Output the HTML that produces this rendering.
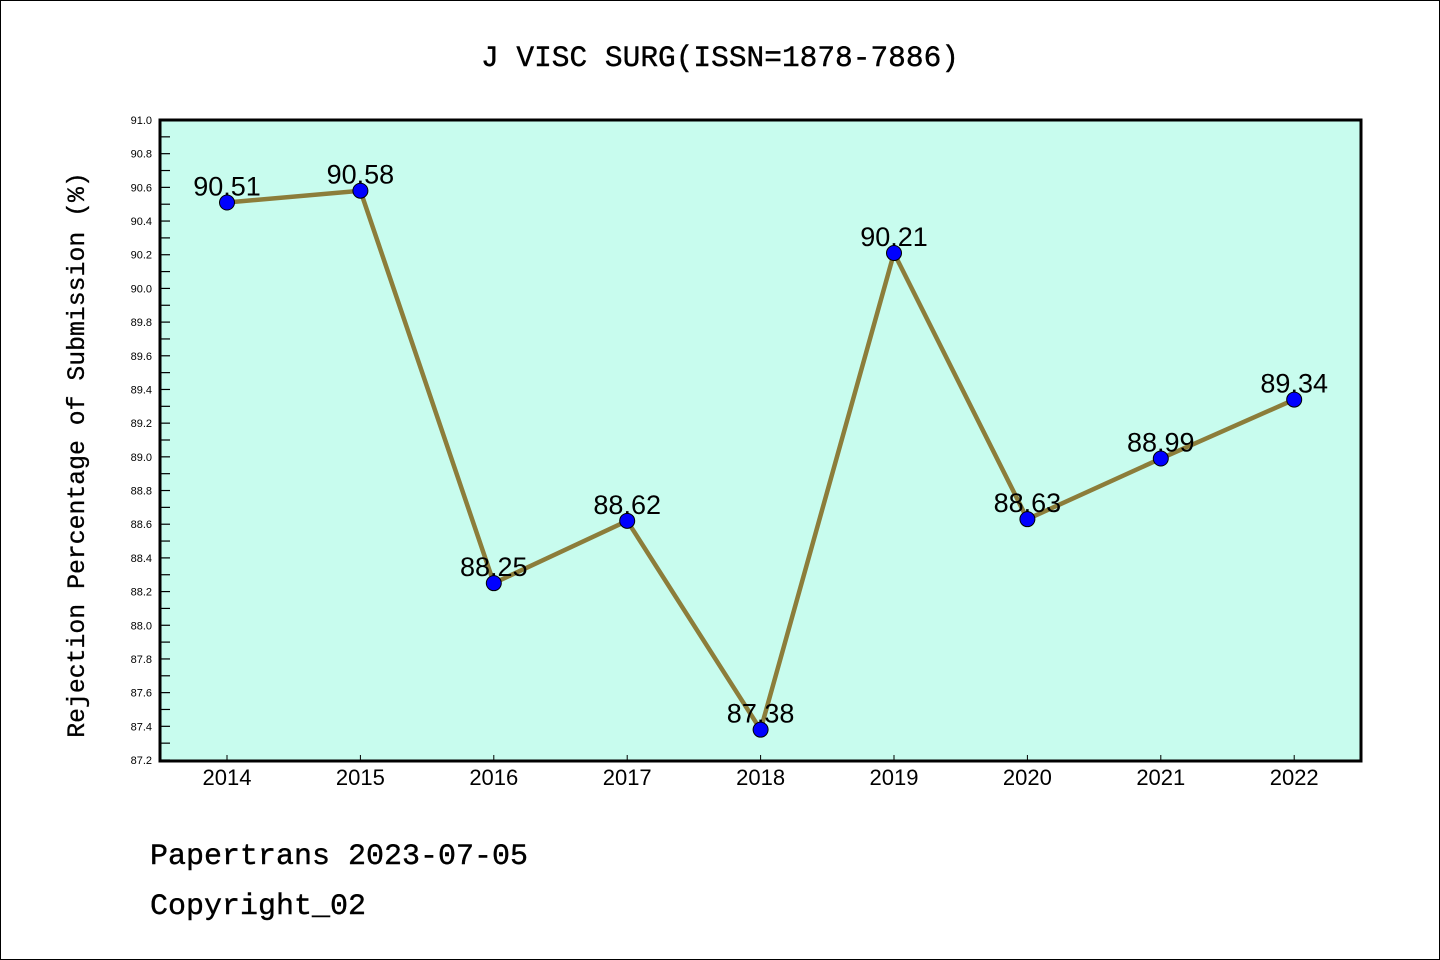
<!DOCTYPE html>
<html><head><meta charset="utf-8"><style>
html,body{margin:0;padding:0;background:#fff}
svg{display:block}
</style></head><body>
<svg width="1440" height="960" xmlns="http://www.w3.org/2000/svg">
<rect x="0.5" y="0.5" width="1439" height="959" fill="#fff" stroke="#000" stroke-width="1"/>
<text x="720" y="66" text-anchor="middle" font-family="Liberation Mono, monospace" font-size="29.5" stroke="#000" stroke-width="0.4">J VISC SURG(ISSN=1878-7886)</text>
<rect x="160" y="120" width="1201" height="641" fill="#c8fcee"/>
<g id="ticks"></g>
<g id="series"></g>
<rect x="160" y="120" width="1201" height="641" fill="none" stroke="#000" stroke-width="3"/>
<text transform="translate(84,455) rotate(-90)" text-anchor="middle" font-family="Liberation Mono, monospace" font-size="24.8" stroke="#000" stroke-width="0.3">Rejection Percentage of Submission (%)</text>
<text x="150" y="864" font-family="Liberation Mono, monospace" font-size="30" stroke="#000" stroke-width="0.4">Papertrans 2023-07-05</text>
<text x="150" y="914" font-family="Liberation Mono, monospace" font-size="30" stroke="#000" stroke-width="0.4">Copyright_02</text>
</svg>
<script>
const years = ['2014','2015','2016','2017','2018','2019','2020','2021','2022'];
const values = [90.51,90.58,88.25,88.62,87.38,90.21,88.63,88.99,89.34];
const yTicks = ['87.2','87.4','87.6','87.8','88.0','88.2','88.4','88.6','88.8','89.0','89.2','89.4','89.6','89.8','90.0','90.2','90.4','90.6','90.8','91.0'];
const NS='http://www.w3.org/2000/svg';
const yMin=87.2,yMax=91.0,yTop=120,yBot=760;
function yScale(v){return yBot-(v-yMin)/(yMax-yMin)*(yBot-yTop);}
function xScale(i){return 227+i*133.4;}
function mk(t,a,p){const e=document.createElementNS(NS,t);for(const k in a)e.setAttribute(k,a[k]);p.appendChild(e);return e;}
const tg=document.getElementById('ticks'), sg=document.getElementById('series');
yTicks.forEach((t,i)=>{
  const v=parseFloat(t), yy=yScale(v);
  const l=mk('line',{x1:160,x2:170,y1:yy,y2:yy,stroke:'#000','stroke-width':1.2},tg);
  
  
  const tx=mk('text',{x:152,y:yy+4,'text-anchor':'end','font-family':'Liberation Sans, sans-serif','font-size':11},tg);
  tx.textContent=t;
  
  
  if(i<yTicks.length-1){
    const ym=yScale(v+0.1);
    const m=mk('line',{x1:160,x2:170,y1:ym,y2:ym,stroke:'#000','stroke-width':1.2},tg);
    
    
  }
});
years.forEach((yr,i)=>{
  const l=mk('line',{x1:xScale(i),x2:xScale(i),y1:755,y2:760,stroke:'#000','stroke-width':1},tg);
  
  
  const t=mk('text',{x:xScale(i),y:785,'text-anchor':'middle','font-family':'Liberation Sans, sans-serif','font-size':22},tg);
  t.textContent=yr;
  
  
});
const pl=mk('polyline',{points:values.map((v,i)=>xScale(i)+','+yScale(v)).join(' '),fill:'none',stroke:'#8c7d3a','stroke-width':4.5},sg);


values.forEach((v,i)=>{
  const c=mk('circle',{cx:xScale(i),cy:yScale(v),r:7.5,fill:'#0000ff',stroke:'#000','stroke-width':1},sg);
  
  
});
values.forEach((v,i)=>{
  const t=mk('text',{x:xScale(i),y:yScale(v)-7,'text-anchor':'middle','font-family':'Liberation Sans, sans-serif','font-size':27},sg);
  t.textContent=v.toFixed(2);
  
  
});
</script>
</body></html>
